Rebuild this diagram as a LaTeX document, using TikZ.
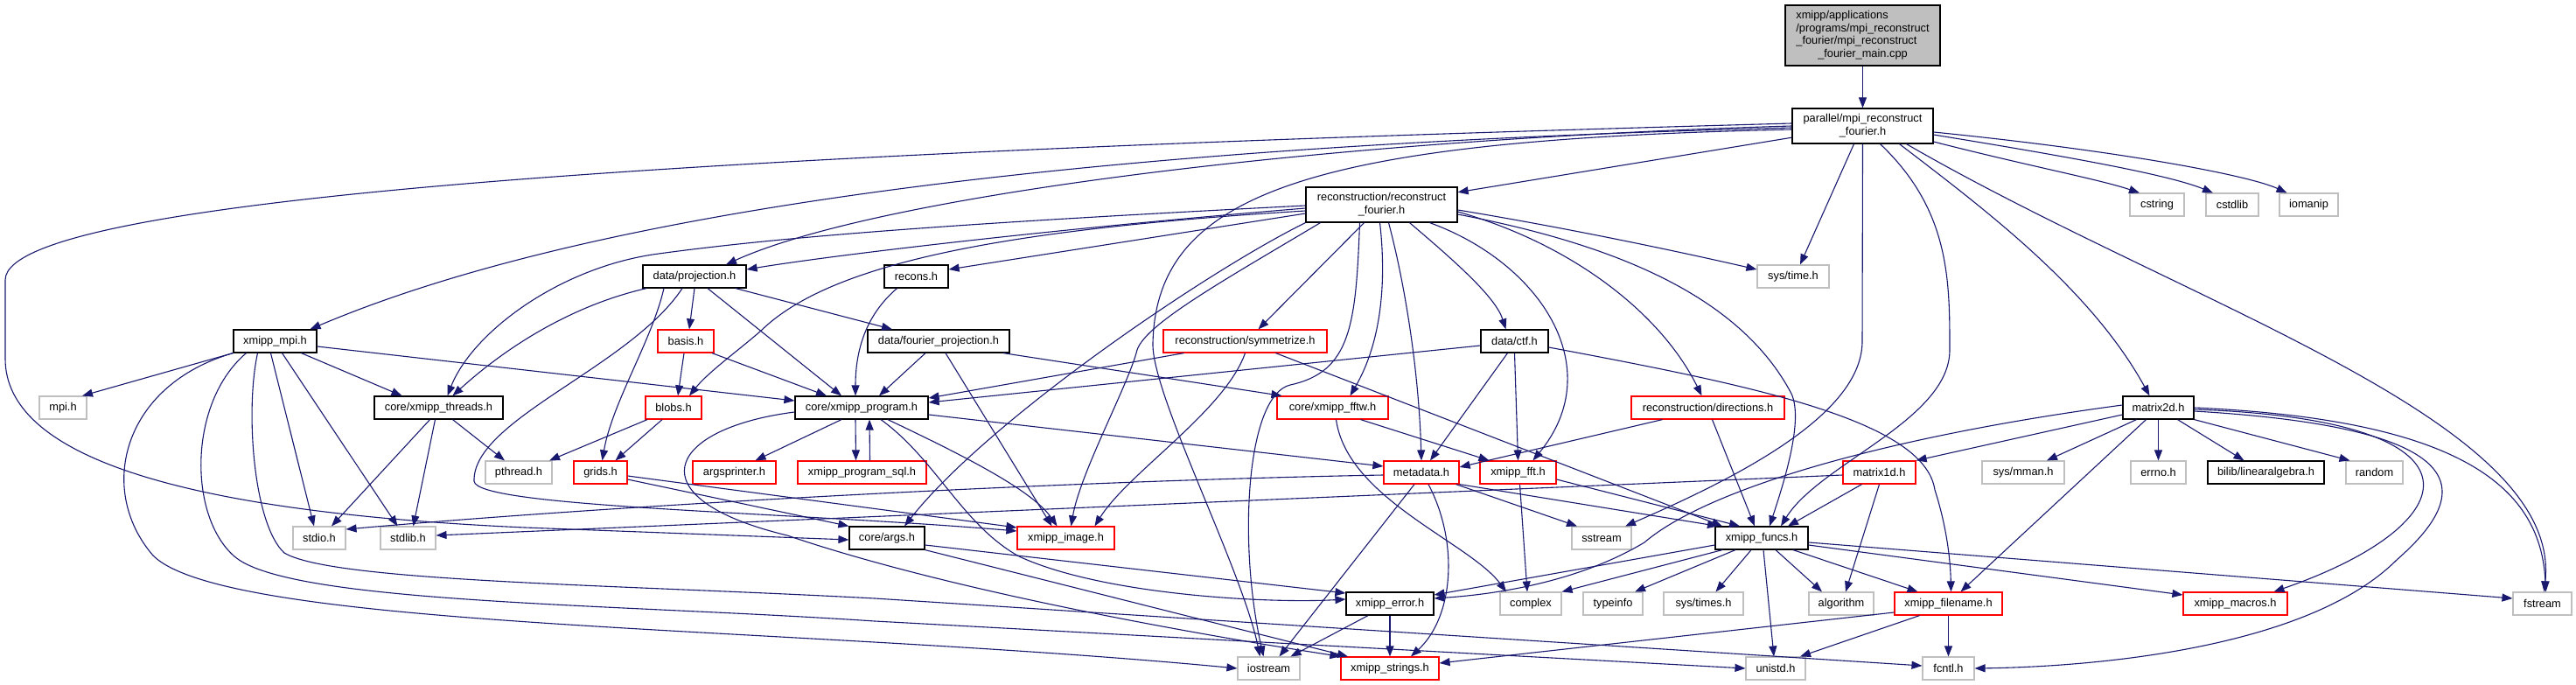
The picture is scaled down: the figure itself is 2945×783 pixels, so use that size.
\documentclass[tikz,border=0pt]{standalone}
\usepackage{fontspec}
\setmainfont{Liberation Sans}
\usetikzlibrary{arrows.meta}
\definecolor{edgeblue}{HTML}{191970}
\definecolor{extgray}{HTML}{BFBFBF}
\definecolor{truncred}{HTML}{FF0000}

\begin{document}
\begin{tikzpicture}[x=1pt,y=-1pt,
  filebox/.style={rectangle,draw,inner sep=0pt,minimum height=26pt,line width=1.2pt,font=\fontsize{12.8}{14.5}\selectfont},
  docbox/.style={filebox,draw=black},
  truncbox/.style={filebox,draw=truncred},
  extbox/.style={filebox,draw=extgray,line width=1.1pt},
  incl/.style={draw=edgeblue,line width=1.1pt,-{Triangle[length=12pt,width=9pt]}}]
  \fill[white] (0,0) rectangle (2945,783);
  \useasboundingbox (0,0) rectangle (2945,783);

  \node[docbox,fill=extgray,minimum width=177pt,minimum height=69pt] (main) at (2129.5,40.5)
    {\begin{tabular}{@{}l@{}}xmipp/applications\\/programs/mpi\_reconstruct\\\_fourier/mpi\_reconstruct\\\multicolumn{1}{@{}c@{}}{\_fourier\_main.cpp}\end{tabular}};
  \node[docbox,minimum width=161pt,minimum height=40pt] (par) at (2129.5,144)
    {\begin{tabular}{@{}l@{}}parallel/mpi\_reconstruct\\\multicolumn{1}{@{}c@{}}{\_fourier.h}\end{tabular}};
  \node[extbox,minimum width=62pt] (cstring) at (2466,234) {cstring};
  \node[extbox,minimum width=60pt] (cstdlib) at (2552,234) {cstdlib};
  \node[extbox,minimum width=67pt] (iomanip) at (2639.5,234) {iomanip};
  \node[docbox,minimum width=173pt,minimum height=40pt] (rf) at (1579.5,234)
    {\begin{tabular}{@{}l@{}}reconstruction/reconstruct\\\multicolumn{1}{@{}c@{}}{\_fourier.h}\end{tabular}};
  \node[extbox,minimum width=82pt] (systime) at (2050,316) {sys/time.h};
  \node[docbox,minimum width=73pt] (recons) at (1047.5,316) {recons.h};
  \node[docbox,minimum width=118pt] (dp) at (794,316) {data/projection.h};
  \node[docbox,minimum width=95pt] (mpi) at (314.5,390) {xmipp\_mpi.h};
  \node[truncbox,minimum width=64pt] (basis) at (784,390) {basis.h};
  \node[docbox,minimum width=162pt] (fproj) at (1073,390) {data/fourier\_projection.h};
  \node[truncbox,minimum width=187pt] (sym) at (1423.5,390) {reconstruction/symmetrize.h};
  \node[docbox,minimum width=77pt] (ctf) at (1731.5,390) {data/ctf.h};
  \node[extbox,minimum width=54pt] (mpih) at (72,466) {mpi.h};
  \node[docbox,minimum width=147pt] (threads) at (501.5,466) {core/xmipp\_threads.h};
  \node[truncbox,minimum width=64pt] (blobs) at (770,466) {blobs.h};
  \node[docbox,minimum width=152pt] (program) at (985,466) {core/xmipp\_program.h};
  \node[truncbox,minimum width=127pt] (fftw) at (1523.5,466) {core/xmipp\_fftw.h};
  \node[truncbox,minimum width=175pt] (directions) at (1952.5,466) {reconstruction/directions.h};
  \node[docbox,minimum width=81pt] (matrix2d) at (2467.5,466) {matrix2d.h};
  \node[extbox,minimum width=76pt] (pthread) at (593,540) {pthread.h};
  \node[truncbox,minimum width=61pt] (grids) at (686.5,540) {grids.h};
  \node[truncbox,minimum width=95pt] (argsprinter) at (839.5,540) {argsprinter.h};
  \node[truncbox,minimum width=147pt] (sql) at (985.5,540) {xmipp\_program\_sql.h};
  \node[truncbox,minimum width=86pt] (metadata) at (1625,540) {metadata.h};
  \node[truncbox,minimum width=87pt] (fft) at (1735.5,540) {xmipp\_fft.h};
  \node[truncbox,minimum width=83pt] (matrix1d) at (2148.5,540) {matrix1d.h};
  \node[extbox,minimum width=94pt] (mman) at (2313,540) {sys/mman.h};
  \node[extbox,minimum width=63pt] (errno) at (2467.5,540) {errno.h};
  \node[docbox,minimum width=133pt] (bilib) at (2590.5,540) {bilib/linearalgebra.h};
  \node[extbox,minimum width=65pt] (random) at (2714.5,540) {random};
  \node[extbox,minimum width=60pt] (stdio) at (365,615) {stdio.h};
  \node[extbox,minimum width=63pt] (stdlib) at (466.5,615) {stdlib.h};
  \node[docbox,minimum width=86pt] (args) at (1014,615) {core/args.h};
  \node[truncbox,minimum width=111pt] (image) at (1218.5,615) {xmipp\_image.h};
  \node[extbox,minimum width=68pt] (sstream) at (1831,615) {sstream};
  \node[docbox,minimum width=106pt] (funcs) at (2014,615) {xmipp\_funcs.h};
  \node[docbox,minimum width=100pt] (error) at (1589,690) {xmipp\_error.h};
  \node[extbox,minimum width=70pt] (complex) at (1750,690) {complex};
  \node[extbox,minimum width=68pt] (typeinfo) at (1844,690) {typeinfo};
  \node[extbox,minimum width=91pt] (systimes) at (1947.5,690) {sys/times.h};
  \node[extbox,minimum width=74pt] (algorithm) at (2105,690) {algorithm};
  \node[truncbox,minimum width=123pt] (filename) at (2227.5,690) {xmipp\_filename.h};
  \node[truncbox,minimum width=119pt] (macros) at (2555.5,690) {xmipp\_macros.h};
  \node[extbox,minimum width=67pt] (fstream) at (2906.5,690) {fstream};
  \node[extbox,minimum width=71pt] (iostream) at (1450.5,764) {iostream};
  \node[truncbox,minimum width=112pt] (strings) at (1589,764) {xmipp\_strings.h};
  \node[extbox,minimum width=68pt] (unistd) at (2030,764) {unistd.h};
  \node[extbox,minimum width=59pt] (fcntl) at (2227.5,764) {fcntl.h};

  \draw[incl] (main) -- (par);
  \draw[incl] (par) -- (rf);
  \draw[incl] (par.west) .. controls (1500,160) and (1000,225) .. ([xshift=36pt]dp.north);
  \draw[incl] ([yshift=-2pt]par.west) .. controls (1300,165) and (700,230) .. ([xshift=40pt]mpi.north);
  \draw[incl] ([yshift=3pt]par.west) .. controls (1000,170) and (6,215) .. (6,320) -- (6,410)
    .. controls (6,520) and (200,585) .. (600,603) -- ([yshift=-2pt]args.west);
  \draw[incl] ([yshift=-4pt]par.west) .. controls (1500,160) and (1322,220) .. (1318,392)
    .. controls (1316,450) and (1420,650) .. ([xshift=-10pt]iostream.north);
  \draw[incl] ([xshift=-10pt]par.south) -- ([xshift=8pt]systime.north);
  \draw[incl] ([yshift=-18pt]par.east) .. controls (2320,190) and (2400,205) .. ([xshift=-20pt]cstring.north);
  \draw[incl] ([yshift=-10pt]par.east) .. controls (2370,180) and (2480,200) .. ([xshift=-22pt]cstdlib.north);
  \draw[incl] ([yshift=-7pt]par.east) .. controls (2420,172) and (2570,200) .. ([xshift=-25pt]iomanip.north);
  \draw[incl] ([xshift=42pt]par.south) .. controls (2270,240) and (2390,330) .. ([xshift=-10pt]matrix2d.north);
  \draw[incl] ([xshift=50pt]par.south) .. controls (2500,350) and (2930,480) .. ([xshift=2pt]fstream.north);
  \draw[incl] (par.south) -- (2129,390) .. controls (2129,470) and (2000,540) .. ([xshift=27pt]sstream.north);
  \draw[incl] ([xshift=20pt]par.south) .. controls (2229,240) and (2229,320) .. (2229,400)
    .. controls (2229,480) and (2080,530) .. ([xshift=22pt]funcs.north);

  \draw[incl] ([yshift=-4pt]rf.west) .. controls (1200,262) and (950,292) .. ([yshift=8pt]dp.east);
  \draw[incl] ([yshift=-1pt]rf.west) .. controls (1100,255) and (900,270) .. (753,290)
    .. controls (640,305) and (540,380) .. ([xshift=10pt]threads.north);
  \draw[incl] ([yshift=-7pt]rf.west) .. controls (1150,262) and (950,300) .. (870,378)
    .. controls (845,400) and (810,425) .. ([xshift=18pt]blobs.north);
  \draw[incl] ([yshift=-10pt]rf.west) -- ([yshift=8pt]recons.east);
  \draw[incl] (rf.south west) .. controls (1380,310) and (1130,480) .. ([xshift=20pt]args.north);
  \draw[incl] ([xshift=-70pt]rf.south) .. controls (1400,320) and (1310,370) .. (1300,400)
    .. controls (1290,440) and (1235,540) .. ([xshift=6pt]image.north);
  \draw[incl] ([xshift=-25pt]rf.south) .. controls (1550,370) and (1545,425) .. (1475,440)
    .. controls (1425,452) and (1415,620) .. ([xshift=-6pt]iostream.north);
  \draw[incl] ([xshift=-20pt]rf.south) -- ([xshift=15pt]sym.north);
  \draw[incl] ([xshift=-2pt]rf.south) .. controls (1585,320) and (1580,390) .. ([xshift=20pt]fftw.north);
  \draw[incl] ([xshift=8pt]rf.south) .. controls (1605,320) and (1622,420) .. (metadata.north);
  \draw[incl] ([xshift=32pt]rf.south) .. controls (1665,300) and (1710,340) .. ([xshift=-10pt]ctf.north);
  \draw[incl] ([xshift=55pt]rf.south) .. controls (1760,300) and (1840,420) .. ([xshift=17pt]fft.north);
  \draw[incl] ([yshift=-8pt]rf.east) .. controls (1800,280) and (1900,360) .. ([xshift=-7pt]directions.north);
  \draw[incl] ([yshift=-11pt]rf.east) .. controls (1850,280) and (1990,340) .. (2048,450)
    .. controls (2062,480) and (2040,550) .. ([xshift=9pt]funcs.north);
  \draw[incl] ([yshift=-6pt]rf.east) .. controls (1800,262) and (1930,290) .. ([yshift=8pt]systime.west);

  \draw[incl] (dp.south) -- ([xshift=4pt]basis.north);
  \draw[incl] ([xshift=47pt]dp.south) -- ([xshift=-53pt]fproj.north);
  \draw[incl] ([xshift=-55pt]dp.south) .. controls (650,350) and (575,400) .. ([xshift=16pt]threads.north);
  \draw[incl] ([xshift=-35pt]dp.south) .. controls (745,390) and (700,460) .. ([xshift=2pt]grids.north);
  \draw[incl] ([xshift=-14pt]dp.south) .. controls (720,420) and (540,480) .. (542,550)
    .. controls (544,580) and (900,585) .. ([yshift=8pt]image.west);
  \draw[incl] ([xshift=15pt]dp.south) -- ([xshift=-23pt]program.north);

  \draw[incl] (mpi.south west) -- ([xshift=22pt]mpih.north);
  \draw[incl] ([xshift=30pt]mpi.south) -- ([xshift=-42pt]threads.north);
  \draw[incl] ([yshift=-6pt]mpi.east) -- ([yshift=8pt]program.west);
  \draw[incl] ([xshift=-5pt]mpi.south) -- ([xshift=-6pt]stdio.north);
  \draw[incl] ([xshift=8pt]mpi.south) -- ([xshift=-12pt]stdlib.north);
  \draw[incl] ([xshift=-48pt]mpi.south) .. controls (140,440) and (110,560) .. (175,635)
    .. controls (260,720) and (900,715) .. (iostream.west);
  \draw[incl] ([xshift=-33pt]mpi.south) .. controls (215,460) and (215,590) .. (268,636)
    .. controls (330,690) and (700,690) .. (1000,710) -- (unistd.west);
  \draw[incl] ([xshift=-20pt]mpi.south) .. controls (280,470) and (290,600) .. (325,632)
    .. controls (380,665) and (700,668) .. (1000,684) -- ([yshift=3pt]fcntl.west);

  \draw[incl] ([xshift=-10pt]threads.south) -- ([xshift=14pt]stdio.north);
  \draw[incl] ([xshift=-4pt]threads.south) -- ([xshift=6pt]stdlib.north);
  \draw[incl] ([xshift=16pt]threads.south) -- ([xshift=-16pt]pthread.north);

  \draw[incl] ([xshift=-2pt]basis.south) -- ([xshift=5pt]blobs.north);
  \draw[incl] ([xshift=30pt]basis.south) -- ([xshift=-40pt]program.north);
  \draw[incl] ([xshift=-15pt]fproj.south) -- ([xshift=20pt]program.north);
  \draw[incl] ([xshift=8pt]fproj.south) -- ([xshift=-16pt]image.north);
  \draw[incl] ([xshift=74pt]fproj.south) -- ([xshift=-58pt]fftw.north);

  \draw[incl] ([xshift=-70pt]sym.south) -- ([yshift=11pt]program.east);
  \draw[incl] (sym.south) .. controls (1400,470) and (1290,540) .. ([xshift=33pt]image.north);
  \draw[incl] ([xshift=35pt]sym.south) -- ([xshift=-45pt]funcs.north);

  \draw[incl] ([yshift=-5pt]ctf.west) -- ([yshift=6pt]program.east);
  \draw[incl] ([xshift=-8pt]ctf.south) -- ([xshift=10pt]metadata.north);
  \draw[incl] (ctf.south) -- (fft.north);
  \draw[incl] ([yshift=-7pt]ctf.east) .. controls (2000,440) and (2200,480) .. (2212,560)
    .. controls (2228,610) and (2230,650) .. ([xshift=3pt]filename.north);

  \draw[incl] ([xshift=32pt]fftw.south) -- ([xshift=-33pt]fft.north);
  \draw[incl] ([xshift=4pt]fftw.south) .. controls (1540,570) and (1680,620) .. ([xshift=-28pt]complex.north);
  \draw[incl] ([xshift=-52pt]directions.south) -- ([yshift=6pt]metadata.east);
  \draw[incl] ([xshift=5pt]directions.south) -- ([xshift=-8pt]funcs.north);

  \draw[incl] ([yshift=-8pt]matrix2d.west) -- (matrix1d.north east);
  \draw[incl] ([yshift=3pt]matrix2d.west) .. controls (2150,500) and (1950,560) .. (1880,620)
    .. controls (1800,668) and (1700,680) .. ([yshift=6pt]error.east);
  \draw[incl] ([xshift=-25pt]matrix2d.south) -- ([xshift=27pt]mman.north);
  \draw[incl] (matrix2d.south) -- (errno.north);
  \draw[incl] ([xshift=22pt]matrix2d.south) -- ([xshift=-25pt]bilib.north);
  \draw[incl] (matrix2d.south east) -- ([xshift=-28pt]random.north);
  \draw[incl] ([xshift=-14pt]matrix2d.south) -- ([xshift=14pt]filename.north);
  \draw[incl] ([yshift=-2pt]matrix2d.east) .. controls (2860,480) and (2820,600) .. ([xshift=44pt]macros.north);
  \draw[incl] ([yshift=-4pt]matrix2d.east) .. controls (2850,490) and (2820,570) .. (2740,640)
    .. controls (2640,740) and (2400,762) .. (fcntl.east);
  \draw[incl] (matrix2d.east) .. controls (2820,480) and (2905,560) .. ([xshift=4pt]fstream.north);

  \draw[incl] ([xshift=-20pt]matrix1d.south) -- ([xshift=30pt]funcs.north);
  \draw[incl] (matrix1d.south) -- ([xshift=5pt]algorithm.north);
  \draw[incl] ([yshift=-3pt]matrix1d.west) -- ([yshift=3pt]stdlib.east);

  \draw[incl] ([yshift=-3pt]metadata.west) .. controls (1200,550) and (700,578) .. ([yshift=10pt]stdio.east);
  \draw[incl] ([xshift=-8pt]metadata.south) -- ([xshift=12pt]iostream.north);
  \draw[incl] ([xshift=8pt]metadata.south) .. controls (1668,620) and (1662,705) .. ([xshift=24pt]strings.north);
  \draw[incl] ([xshift=-4pt]metadata.south east) -- ([xshift=-28pt]sstream.north);
  \draw[incl] (metadata.south east) -- ([xshift=-50pt]funcs.north);
  \draw[incl] ([xshift=2pt]fft.south) -- ([xshift=-4pt]complex.north);
  \draw[incl] ([yshift=-8pt]fft.east) -- ([xshift=-25pt]funcs.north);

  \draw[incl] ([xshift=-23pt]program.south) -- ([xshift=24pt]argsprinter.north);
  \draw[incl] ([xshift=-7pt]program.south) -- ([xshift=-7pt]sql.north);
  \draw[incl] ([xshift=9pt]sql.north) -- ([xshift=9pt]program.south);
  \draw[incl] ([xshift=30pt]program.south) .. controls (1100,520) and (1180,560) .. ([xshift=-10pt]image.north);
  \draw[incl] ([yshift=-8pt]program.east) -- ([yshift=7pt]metadata.west);
  \draw[incl] ([xshift=22pt]program.south) .. controls (1070,525) and (1100,600) .. (1165,636)
    .. controls (1260,680) and (1450,690) .. ([yshift=5pt]error.west);
  \draw[incl] ([yshift=-5pt]program.west) .. controls (760,490) and (725,570) .. (900,612)
    .. controls (1100,680) and (1400,730) .. (strings.north west);

  \draw[incl] ([yshift=-8pt]args.east) -- ([yshift=12pt]error.west);
  \draw[incl] (args.south east) -- ([xshift=-48pt]strings.north);
  \draw[incl] ([yshift=-8pt]grids.east) -- (args.north west);
  \draw[incl] ([yshift=-4pt]grids.east) -- ([yshift=12pt]image.west);
  \draw[incl] ([xshift=-30pt]blobs.south) -- ([xshift=35pt]pthread.north);
  \draw[incl] ([xshift=-13pt]blobs.south) -- ([xshift=17pt]grids.north);
  \draw[incl] ([xshift=-22pt]recons.south) .. controls (990,360) and (978,400) .. ([xshift=-7pt]program.north);

  \draw[incl] ([xshift=-25pt]error.south) -- ([xshift=25pt]iostream.north);
  \draw[incl] (error.south) -- (strings.north);

  \draw[incl] ([yshift=-8pt]funcs.west) -- ([yshift=10pt]error.east);
  \draw[incl] ([xshift=-45pt]funcs.south) -- (complex.north east);
  \draw[incl] ([xshift=-30pt]funcs.south) -- ([xshift=25pt]typeinfo.north);
  \draw[incl] ([xshift=-12pt]funcs.south) -- ([xshift=14pt]systimes.north);
  \draw[incl] ([xshift=2pt]funcs.south) -- ([xshift=-2pt]unistd.north);
  \draw[incl] ([xshift=16pt]funcs.south) -- ([xshift=-22pt]algorithm.north);
  \draw[incl] ([xshift=36pt]funcs.south) -- ([xshift=-35pt]filename.north);
  \draw[incl] ([yshift=-8pt]funcs.east) -- ([yshift=10pt]macros.west);
  \draw[incl] ([yshift=-5pt]funcs.east) -- ([yshift=6pt]fstream.west);

  \draw[incl] ([yshift=-10pt]filename.west) -- ([yshift=6pt]strings.east);
  \draw[incl] ([xshift=-33pt]filename.south) -- ([xshift=28pt]unistd.north);
  \draw[incl] (filename.south) -- (fcntl.north);
\end{tikzpicture}
\end{document}
